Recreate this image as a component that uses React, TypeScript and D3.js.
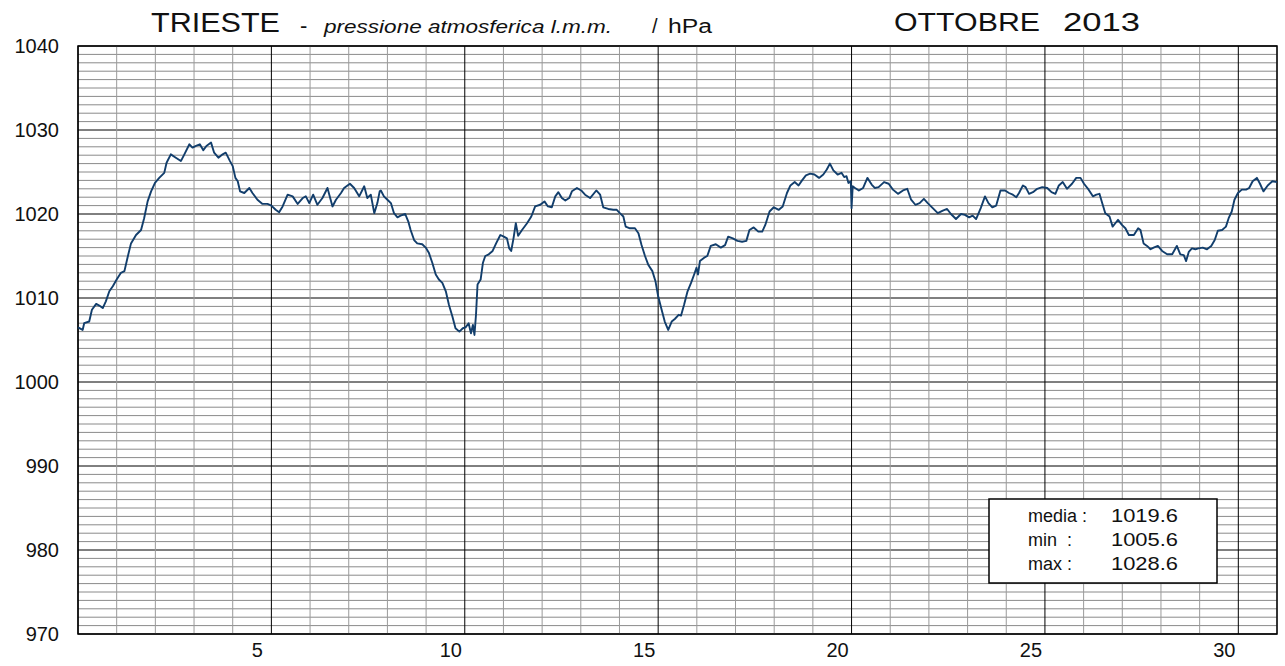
import React from "react";
import * as d3 from "d3";

// time in days since 1 Oct 00:00, pressure hPa
const readings: [number, number][] = [
  [0.00,1006.5],[0.12,1006.2],[0.16,1007.0],[0.29,1007.2],[0.36,1008.6],[0.47,1009.3],[0.55,1009.1],[0.64,1008.8],[0.72,1009.6],[0.81,1010.8],[0.90,1011.4],[1.00,1012.2],[1.11,1013.0],[1.20,1013.2],[1.28,1014.8],[1.37,1016.5],[1.50,1017.5],[1.63,1018.1],[1.71,1019.5],[1.80,1021.5],[1.89,1022.7],[1.99,1023.7],[2.10,1024.3],[2.23,1024.9],[2.29,1026.1],[2.40,1027.1],[2.53,1026.7],[2.66,1026.3],[2.75,1027.1],[2.88,1028.3],[2.96,1027.9],[3.05,1028.1],[3.15,1028.3],[3.24,1027.6],[3.32,1028.1],[3.44,1028.5],[3.52,1027.3],[3.63,1026.7],[3.74,1027.1],[3.82,1027.3],[3.93,1026.3],[4.00,1025.7],[4.07,1024.3],[4.13,1023.9],[4.19,1022.7],[4.30,1022.5],[4.43,1023.1],[4.51,1022.5],[4.64,1021.7],[4.77,1021.2],[4.90,1021.2],[5.00,1021.0],[5.11,1020.5],[5.20,1020.2],[5.29,1020.9],[5.42,1022.3],[5.55,1022.1],[5.68,1021.2],[5.81,1021.9],[5.89,1022.1],[5.98,1021.3],[6.08,1022.3],[6.19,1021.1],[6.32,1021.9],[6.45,1023.1],[6.58,1020.9],[6.67,1021.7],[6.80,1022.5],[6.88,1023.1],[7.03,1023.6],[7.14,1023.1],[7.27,1022.1],[7.40,1023.3],[7.48,1021.9],[7.57,1022.3],[7.66,1020.1],[7.74,1021.3],[7.80,1022.7],
  [7.83,1022.8],[7.91,1022.1],[8.00,1021.7],[8.09,1021.3],[8.17,1020.1],[8.26,1019.6],[8.34,1019.8],[8.46,1020.0],[8.54,1019.1],[8.60,1018.1],[8.69,1016.9],[8.77,1016.5],[8.90,1016.4],[8.99,1016.0],[9.07,1015.4],[9.16,1014.2],[9.25,1012.8],[9.33,1012.2],[9.42,1011.8],[9.51,1010.8],[9.59,1009.2],[9.68,1007.8],[9.76,1006.4],[9.86,1006.0],[9.95,1006.4],[10.02,1006.5],[10.10,1007.0],[10.16,1005.8],[10.21,1006.8],[10.25,1005.6],[10.29,1008.0],[10.33,1011.6],[10.41,1012.2],[10.47,1014.2],[10.53,1015.0],[10.62,1015.2],[10.72,1015.6],[10.81,1016.5],[10.92,1017.5],[11.01,1017.3],[11.09,1017.1],[11.15,1015.9],[11.20,1015.6],[11.26,1017.1],[11.32,1018.9],[11.38,1017.4],[11.48,1018.1],[11.61,1018.9],[11.72,1019.7],[11.82,1020.9],[11.95,1021.1],[12.06,1021.5],[12.15,1020.9],[12.25,1020.8],[12.34,1022.1],[12.42,1022.6],[12.51,1021.9],[12.60,1021.6],[12.70,1021.9],[12.77,1022.7],[12.90,1023.1],[13.01,1022.8],[13.11,1022.3],[13.24,1021.9],[13.40,1022.8],[13.50,1022.3],[13.58,1020.8],[13.71,1020.6],[13.84,1020.5],[13.93,1020.5],[14.01,1020.1],[14.10,1019.7],[14.16,1018.5],[14.27,1018.3],[14.40,1018.3],[14.49,1017.7],[14.57,1016.3],[14.66,1015.0],[14.74,1014.0],[14.85,1013.2],[14.93,1012.0],[15.00,1010.2],[15.09,1008.6],[15.17,1007.2],[15.26,1006.2],[15.35,1007.2],[15.43,1007.5],[15.53,1008.0],
  [15.59,1007.9],[15.67,1009.2],[15.76,1010.8],[15.85,1011.8],[15.93,1012.8],[15.99,1013.6],[16.03,1012.8],[16.08,1014.4],[16.19,1014.8],[16.27,1015.0],[16.36,1016.2],[16.49,1016.4],[16.62,1016.0],[16.73,1016.3],[16.81,1017.3],[16.93,1017.1],[17.05,1016.8],[17.17,1016.7],[17.28,1016.8],[17.36,1018.1],[17.47,1018.4],[17.59,1017.9],[17.69,1017.9],[17.77,1018.7],[17.88,1020.3],[17.99,1020.8],[18.12,1020.5],[18.22,1020.9],[18.33,1022.5],[18.42,1023.4],[18.53,1023.8],[18.63,1023.4],[18.72,1024.0],[18.82,1024.6],[18.93,1024.8],[19.04,1024.7],[19.16,1024.3],[19.27,1024.7],[19.36,1025.3],[19.44,1026.0],[19.53,1025.2],[19.64,1024.7],[19.74,1024.9],[19.81,1024.4],[19.87,1024.5],[19.92,1023.7],[19.98,1023.9],[20.00,1020.7],[20.03,1023.3],[20.09,1023.1],[20.19,1022.8],[20.30,1023.1],[20.41,1024.3],[20.52,1023.5],[20.60,1023.1],[20.70,1023.2],[20.84,1023.8],[20.96,1023.6],[21.07,1022.9],[21.20,1022.4],[21.33,1022.8],[21.44,1023.0],[21.54,1021.7],[21.65,1021.1],[21.76,1021.3],[21.87,1021.8],[21.97,1021.3],[22.10,1020.7],[22.23,1020.1],[22.36,1020.4],[22.47,1020.6],[22.57,1020.0],[22.70,1019.4],[22.83,1020.0],[22.93,1019.9],[23.04,1019.6],[23.13,1019.8],[23.22,1019.4],
  [23.34,1020.7],[23.45,1022.1],[23.54,1021.3],[23.64,1020.8],[23.74,1021.0],[23.85,1022.8],[23.97,1022.8],[24.07,1022.5],[24.17,1022.3],[24.26,1022.0],[24.33,1022.5],[24.43,1023.4],[24.50,1023.2],[24.59,1022.4],[24.69,1022.6],[24.80,1023.0],[24.93,1023.2],[25.06,1023.1],[25.17,1022.6],[25.27,1022.4],[25.36,1023.4],[25.46,1023.8],[25.57,1023.0],[25.70,1023.6],[25.81,1024.3],[25.92,1024.3],[26.01,1023.6],[26.13,1022.9],[26.24,1022.1],[26.33,1022.3],[26.41,1022.4],[26.48,1021.3],[26.56,1020.1],[26.67,1019.7],[26.75,1018.5],[26.82,1018.9],[26.89,1019.3],[26.99,1018.7],[27.08,1018.3],[27.17,1017.5],[27.30,1017.5],[27.41,1018.3],[27.47,1018.1],[27.55,1016.5],[27.64,1016.2],[27.73,1015.8],[27.81,1016.0],[27.92,1016.2],[28.03,1015.6],[28.16,1015.2],[28.29,1015.2],[28.41,1016.2],[28.50,1015.2],[28.59,1015.1],[28.65,1014.4],[28.72,1015.5],[28.80,1015.9],[28.89,1015.8],[28.97,1015.9],[29.08,1016.0],[29.19,1015.8],[29.30,1016.2],[29.39,1016.9],[29.47,1018.0],[29.58,1018.1],[29.68,1018.5],[29.75,1019.5],[29.83,1020.3],[29.90,1021.7],[29.99,1022.5],[30.09,1022.9],[30.20,1022.9],[30.28,1023.1],[30.37,1023.9],[30.48,1024.3],[30.56,1023.6],[30.65,1022.7],[30.76,1023.4],[30.88,1023.9],[31.00,1023.8]
];

const yTicks = [970, 980, 990, 1000, 1010, 1020, 1030, 1040];
const xLabels = [5, 10, 15, 20, 25, 30];
const statLabels = ["media :", "min  :", "max :"];
const statValues = ["1019.6", "1005.6", "1028.6"];

const W = 1285, H = 666;
const FONT = "'Liberation Sans', Arial, sans-serif";

export default function App() {
  const x = d3.scaleLinear().domain([0, 31]).range([78, 1277]);
  const y = d3.scaleLinear().domain([970, 1040]).range([634, 46]);
  const line = d3.line<[number, number]>().x(d => x(d[0])).y(d => y(d[1]));
  const hMinor = d3.range(970, 1041, 1);
  const vMinor = d3.range(0, 32, 1);
  const [x0, x1] = x.range();
  const [y0, y1] = y.range();

  return (
    <svg width={W} height={H} style={{ position: "absolute", left: 0, top: 0, background: "#fff" }} fontFamily={FONT}>
      <rect x={0} y={0} width={W} height={H} fill="#fff" />
      {hMinor.map(v => (
        <line key={"h" + v} x1={x0} x2={x1} y1={y(v)} y2={y(v)} stroke={v % 10 === 0 ? "#000" : "#8a8a8a"} strokeWidth={1} />
      ))}
      {vMinor.map(d => (
        <line key={"v" + d} x1={x(d)} x2={x(d)} y1={y1} y2={y0} stroke={d % 5 === 0 ? "#000" : "#9a9a9a"} strokeWidth={1} />
      ))}
      <rect x={x0} y={y1} width={x1 - x0} height={y0 - y1} fill="none" stroke="#000" strokeWidth={1.5} />
      <path d={line(readings) || ""} fill="none" stroke="#123e6c" strokeWidth={1.9} strokeLinejoin="round" />
      {yTicks.map(v => (
        <text key={"yt" + v} x={59} y={y(v) + 7} textAnchor="end" fontSize={20} fill="#111">{v}</text>
      ))}
      {xLabels.map(d => (
        <text key={"xl" + d} x={x(d) - 14} y={657} textAnchor="middle" fontSize={20} fill="#111">{d}</text>
      ))}
      <text x={151} y={32} fontSize={27} textLength={129} lengthAdjust="spacingAndGlyphs" fill="#111">TRIESTE</text>
      <text x={300} y={33} fontSize={22} fill="#111">-</text>
      <text x={324} y={33} fontSize={19} fontStyle="italic" textLength={288} lengthAdjust="spacingAndGlyphs" fill="#111">pressione atmosferica l.m.m.</text>
      <text x={652} y={33} fontSize={20} fill="#111">/</text>
      <text x={668} y={33} fontSize={20} textLength={44} lengthAdjust="spacingAndGlyphs" fill="#111">hPa</text>
      <text x={894} y={31} fontSize={26} textLength={146} lengthAdjust="spacingAndGlyphs" fill="#111">OTTOBRE</text>
      <text x={1063} y={31} fontSize={26} textLength={77} lengthAdjust="spacingAndGlyphs" fill="#111">2013</text>
      <rect x={989} y={499} width={228} height={84} fill="#fff" stroke="#000" strokeWidth={1.5} />
      {statLabels.map((s, i) => (
        <text key={"sl" + i} x={1028} y={522 + i * 24} fontSize={18} fill="#111" style={{ whiteSpace: "pre" }}>{s}</text>
      ))}
      {statValues.map((s, i) => (
        <text key={"sv" + i} x={1111} y={522 + i * 24} fontSize={18.5} textLength={67} lengthAdjust="spacingAndGlyphs" fill="#111">{s}</text>
      ))}
    </svg>
  );
}
